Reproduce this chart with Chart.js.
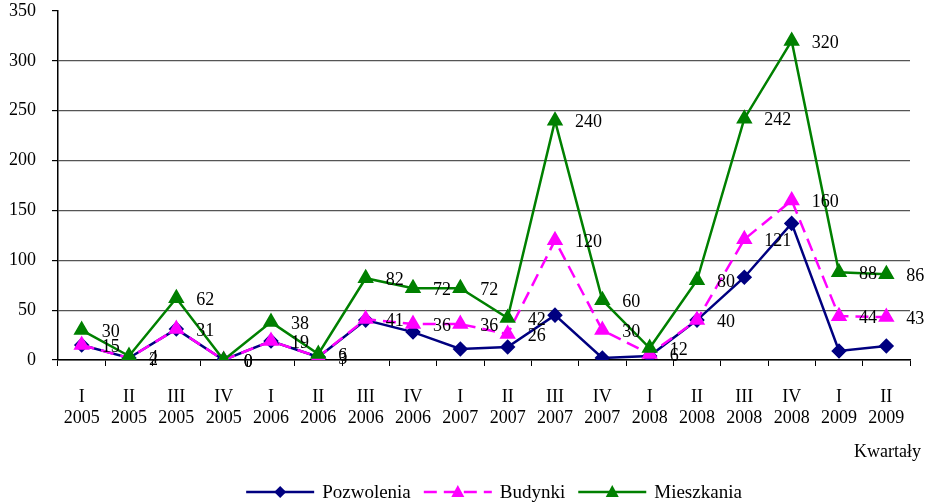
<!DOCTYPE html>
<html>
<head>
<meta charset="utf-8">
<script src="https://cdn.jsdelivr.net/npm/chart.js@4/dist/chart.umd.min.js"></script>
<style>
  html, body { margin: 0; padding: 0; background: #fff; }
  #wrap { width: 931px; height: 502px; }
</style>
</head>
<body>
<div id="wrap"><canvas id="chart" width="931" height="502"></canvas></div>
<script>
// kwartały
const quarters = ["I", "II", "III", "IV", "I", "II", "III", "IV", "I", "II", "III", "IV", "I", "II", "III", "IV", "I", "II"];
const years = ["2005", "2005", "2005", "2005", "2006", "2006", "2006", "2006", "2007", "2007", "2007", "2007", "2008", "2008", "2008", "2008", "2009", "2009"];

// serie
const pozwolenia = [15, 2, 31, 0, 19, 3, 40, 28, 11, 13, 45, 2, 4, 40, 83, 137, 9, 14];
const budynki = [15, 2, 31, 0, 19, 3, 41, 36, 36, 26, 120, 30, 6, 40, 121, 160, 44, 43];
const mieszkania = [30, 4, 62, 0, 38, 6, 82, 72, 72, 42, 240, 60, 12, 80, 242, 320, 88, 86];

const yTicks = [0, 50, 100, 150, 200, 250, 300, 350];

const FONT = "Liberation Serif";
const $chart = document.getElementById("chart").getContext("2d");

// linia + znacznik (legenda)
function drawIcon(ctx, x, y, color, style, dash) {
  ctx.save();
  ctx.strokeStyle = color;
  ctx.lineWidth = 2.5;
  ctx.setLineDash(dash || []);
  ctx.beginPath();
  ctx.moveTo(x, y);
  ctx.lineTo(x + 68, y);
  ctx.stroke();
  ctx.setLineDash([]);
  ctx.fillStyle = color;
  ctx.beginPath();
  const cx = x + 34;
  if (style === "rectRot") {
    ctx.moveTo(cx, y - 6);
    ctx.lineTo(cx + 6, y);
    ctx.lineTo(cx, y + 6);
    ctx.lineTo(cx - 6, y);
  } else {
    ctx.moveTo(cx, y - 7);
    ctx.lineTo(cx + 6.5, y + 5);
    ctx.lineTo(cx - 6.5, y + 5);
  }
  ctx.closePath();
  ctx.fill();
  ctx.restore();
}

// etykiety wartości, podpis osi, legenda
const extras = {
  id: "extras",
  afterDatasetsDraw(chart) {
    const ctx = chart.ctx;
    ctx.save();
    ctx.font = "18px " + FONT;
    ctx.fillStyle = "#000";
    ctx.textAlign = "left";
    ctx.textBaseline = "middle";
    chart.data.datasets.forEach((ds, i) => {
      if (!ds.showLabels) return;
      const meta = chart.getDatasetMeta(i);
      meta.data.forEach((pt, j) => {
        ctx.fillText(String(ds.data[j]), pt.x + 20, pt.y + 2);
      });
    });

    // Kwartały
    ctx.textAlign = "right";
    ctx.fillText("Kwartały", chart.chartArea.right + 11, 452);

    // legenda
    ctx.font = "19px " + FONT;
    ctx.textAlign = "left";
    const items = chart.data.datasets.map((ds) => ({
      ds,
      w: 68 + 8 + ctx.measureText(ds.label).width,
    }));
    const gap = 13;
    const total = items.reduce((s, it) => s + it.w, 0) + gap * (items.length - 1);
    let x = 494 - total / 2;
    const y = 492;
    items.forEach((it) => {
      drawIcon(ctx, x, y, it.ds.borderColor, it.ds.pointStyle, it.ds.borderDash);
      ctx.fillStyle = "#000";
      ctx.fillText(it.ds.label, x + 76, y + 1);
      x += it.w + gap;
    });
    ctx.restore();
  },
};

new Chart($chart, {
  type: "line",
  data: {
    labels: quarters.map((q, i) => [q, years[i]]),
    datasets: [
      {
        label: "Pozwolenia",
        data: pozwolenia,
        borderColor: "#000080",
        backgroundColor: "#000080",
        borderWidth: 2.5,
        pointStyle: "rectRot",
        pointRadius: 6,
        pointHoverRadius: 6,
        tension: 0,
        order: 3,
      },
      {
        label: "Budynki",
        data: budynki,
        borderColor: "#FF00FF",
        backgroundColor: "#FF00FF",
        borderWidth: 2.5,
        borderDash: [13, 7],
        pointStyle: "triangle",
        pointRadius: 7,
        pointHoverRadius: 7,
        tension: 0,
        order: 2,
        showLabels: true,
      },
      {
        label: "Mieszkania",
        data: mieszkania,
        borderColor: "#008000",
        backgroundColor: "#008000",
        borderWidth: 2.5,
        pointStyle: "triangle",
        pointRadius: 7,
        pointHoverRadius: 7,
        tension: 0,
        order: 1,
        showLabels: true,
      },
    ],
  },
  options: {
    responsive: false,
    animation: false,
    layout: { padding: { left: 0, right: 21, top: 11, bottom: 0 } },
    plugins: {
      tooltip: { enabled: false },
      legend: { display: false },
    },
    scales: {
      x: {
        offset: true,
        grid: {
          offset: true,
          drawOnChartArea: false,
          drawTicks: true,
          tickLength: 6,
          tickColor: "#000",
        },
        border: { color: "#000", width: 1.5 },
        ticks: {
          color: "#000",
          font: { family: FONT, size: 18 },
          padding: 20,
          maxRotation: 0,
          autoSkip: false,
        },
        afterFit(scale) {
          scale.height = 142;
          scale.paddingLeft = 0;
          scale.paddingRight = 0;
        },
      },
      y: {
        min: 0,
        max: 350,
        afterBuildTicks(scale) {
          scale.ticks = yTicks.map((v) => ({ value: v }));
        },
        grid: {
          color: (c) => (c.tick && c.tick.value === 350 ? "rgba(0,0,0,0)" : "#555"),
          lineWidth: 1.2,
          tickLength: 6,
          tickColor: "#000",
        },
        border: { color: "#000", width: 1.5 },
        ticks: {
          color: "#000",
          font: { family: FONT, size: 18 },
          padding: 16,
        },
        afterFit(scale) {
          scale.width = 58;
          scale.paddingTop = 0;
          scale.paddingBottom = 0;
        },
      },
    },
  },
  plugins: [extras],
});
</script>
</body>
</html>
